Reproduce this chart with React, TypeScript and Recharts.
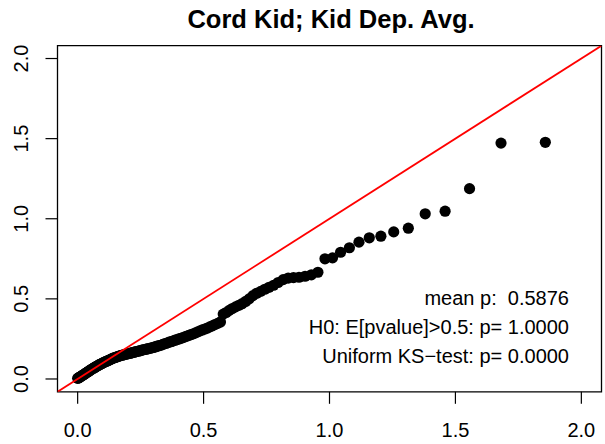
import React from 'react';
import { ScatterChart, Scatter, XAxis, YAxis, ReferenceArea } from 'recharts';

// expected -log10(p) (x) and observed -log10(p) (y), sorted high to low
const expected = [
  1.857, 1.681, 1.556, 1.459, 1.380, 1.313, 1.255, 1.204, 1.158, 1.117,
  1.079, 1.044, 1.012, 0.982, 0.954, 0.928, 0.903, 0.879, 0.857, 0.836,
  0.816, 0.796, 0.778, 0.760, 0.743, 0.727, 0.711, 0.696, 0.681, 0.667,
  0.653, 0.640, 0.627, 0.614, 0.602, 0.590, 0.578, 0.567, 0.556, 0.545,
  0.535, 0.525, 0.515, 0.505, 0.495, 0.486, 0.477, 0.468, 0.459, 0.450,
  0.442, 0.434, 0.426, 0.418, 0.410, 0.402, 0.395, 0.387, 0.380, 0.373,
  0.366, 0.359, 0.352, 0.345, 0.339, 0.332, 0.326, 0.319, 0.313, 0.307,
  0.301, 0.295, 0.289, 0.283, 0.277, 0.272, 0.266, 0.260, 0.255, 0.250,
  0.244, 0.239, 0.234, 0.229, 0.224, 0.219, 0.214, 0.209, 0.204, 0.199,
  0.194, 0.190, 0.185, 0.180, 0.176, 0.171, 0.167, 0.162, 0.158, 0.154,
  0.149, 0.145, 0.141, 0.137, 0.133, 0.129, 0.125, 0.121, 0.117, 0.113,
  0.109, 0.105, 0.101, 0.097, 0.094, 0.090, 0.086, 0.083, 0.079, 0.075,
  0.072, 0.068, 0.065, 0.061, 0.058, 0.054, 0.051, 0.047, 0.044, 0.041,
  0.037, 0.034, 0.031, 0.028, 0.025, 0.021, 0.018, 0.015, 0.012, 0.009,
  0.006, 0.003, 0.000,
];

const observed = [
  1.477, 1.472, 1.188, 1.047, 1.031, 0.941, 0.918, 0.891, 0.881, 0.854,
  0.819, 0.791, 0.756, 0.750, 0.666, 0.650, 0.641, 0.635, 0.633, 0.630,
  0.620, 0.602, 0.585, 0.572, 0.560, 0.547, 0.535, 0.520, 0.500, 0.484,
  0.470, 0.460, 0.450, 0.440, 0.428, 0.415, 0.405, 0.356, 0.347, 0.340,
  0.332, 0.325, 0.318, 0.312, 0.306, 0.300, 0.294, 0.288, 0.282, 0.277,
  0.272, 0.268, 0.263, 0.258, 0.254, 0.250, 0.246, 0.242, 0.238, 0.234,
  0.231, 0.227, 0.223, 0.220, 0.216, 0.212, 0.209, 0.206, 0.203, 0.200,
  0.197, 0.195, 0.192, 0.190, 0.188, 0.186, 0.184, 0.182, 0.180, 0.177,
  0.175, 0.173, 0.171, 0.169, 0.167, 0.165, 0.163, 0.161, 0.159, 0.157,
  0.156, 0.154, 0.152, 0.150, 0.148, 0.146, 0.144, 0.142, 0.140, 0.137,
  0.134, 0.132, 0.130, 0.127, 0.124, 0.121, 0.118, 0.115, 0.112, 0.110,
  0.107, 0.104, 0.101, 0.098, 0.095, 0.092, 0.089, 0.086, 0.082, 0.079,
  0.076, 0.072, 0.069, 0.066, 0.063, 0.059, 0.056, 0.052, 0.048, 0.045,
  0.041, 0.038, 0.035, 0.031, 0.028, 0.025, 0.021, 0.018, 0.015, 0.012,
  0.009, 0.006, 0.004,
];

const axisTicks = [0, 0.5, 1, 1.5, 2];
const axisLimits = [-0.08, 2.08];

const title = 'Cord Kid; Kid Dep. Avg.';
const statLines = [
  'mean p:  0.5876',
  'H0: E[pvalue]>0.5: p= 1.0000',
  'Uniform KS\u2212test: p= 0.0000',
];

const points = expected.map((x, i) => ({ x, y: observed[i] }));
const diagonal = [
  { x: axisLimits[0], y: axisLimits[0] },
  { x: axisLimits[1], y: axisLimits[1] },
];

const FONT = '"Liberation Sans", Arial, Helvetica, sans-serif';

const Dot = (props: any) => <circle cx={props.cx} cy={props.cy} r={5.6} fill="#000" />;
const NoDot = () => <g />;

const YTick = (props: any) => {
  const { y, payload } = props;
  return (
    <text
      x={28}
      y={y}
      transform={`rotate(-90 28 ${y})`}
      textAnchor="middle"
      fontSize={20}
      fontFamily={FONT}
      fill="#000"
    >
      {Number(payload.value).toFixed(1)}
    </text>
  );
};

export default function App() {
  return (
    <div style={{ position: 'absolute', left: 0, top: 0, width: 605, height: 444, background: '#fff' }}>
      <ScatterChart
        width={605}
        height={444}
        margin={{ top: 45.7, right: 3.5, bottom: 0, left: 0 }}
      >
        <XAxis
          type="number"
          dataKey="x"
          domain={axisLimits}
          ticks={axisTicks}
          allowDataOverflow
          axisLine={false}
          tickLine={{ stroke: '#000', strokeWidth: 1.2 }}
          tickSize={12}
          tickMargin={19}
          height={52.2}
          tickFormatter={(v: number) => v.toFixed(1)}
          tick={{ fill: '#000', fontSize: 20, fontFamily: FONT }}
        />
        <YAxis
          type="number"
          dataKey="y"
          domain={axisLimits}
          ticks={axisTicks}
          allowDataOverflow
          axisLine={false}
          tickLine={{ stroke: '#000', strokeWidth: 1.2 }}
          tickSize={12}
          width={57.5}
          tick={<YTick />}
        />
        <ReferenceArea
          x1={axisLimits[0]}
          x2={axisLimits[1]}
          y1={axisLimits[0]}
          y2={axisLimits[1]}
          fill="none"
          fillOpacity={0}
          stroke="#000"
          strokeWidth={1.3}
        />
        <Scatter data={points} shape={Dot} isAnimationActive={false} />
        <Scatter
          data={diagonal}
          line={{ stroke: '#ff0000', strokeWidth: 1.8 }}
          shape={NoDot}
          isAnimationActive={false}
        />
      </ScatterChart>
      <svg
        width={605}
        height={444}
        style={{ position: 'absolute', left: 0, top: 0, pointerEvents: 'none' }}
      >
        <text x={331} y={28} textAnchor="middle" fontSize={25.5} fontWeight="bold" fontFamily={FONT} fill="#000">
          {title}
        </text>
        {statLines.map((s, i) => (
          <text
            key={i}
            x={569}
            y={305 + i * 29}
            textAnchor="end"
            fontSize={20}
            fontFamily={FONT}
            fill="#000"
            style={{ whiteSpace: 'pre' }}
          >
            {s}
          </text>
        ))}
      </svg>
    </div>
  );
}
